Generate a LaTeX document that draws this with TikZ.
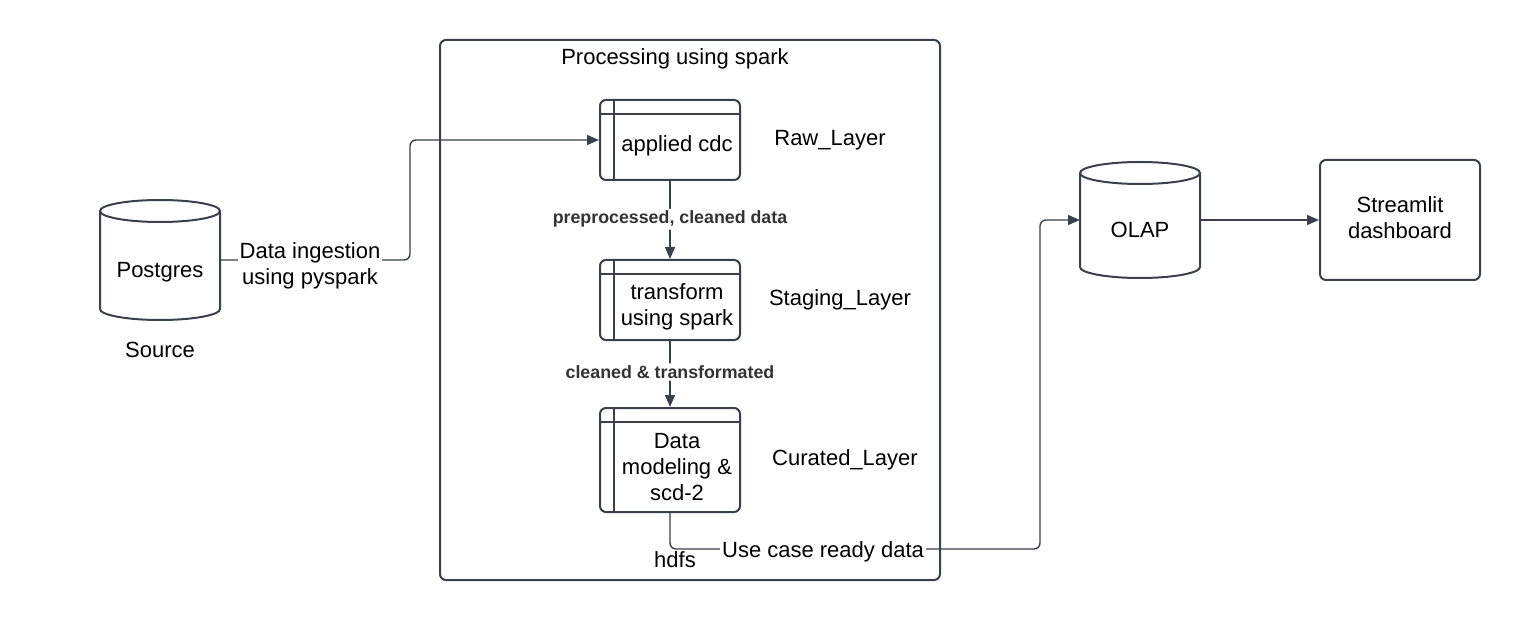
\documentclass[tikz,border=0pt]{standalone}
\usepackage{fontspec}
\setmainfont{Liberation Sans}
\usetikzlibrary{arrows.meta}
\definecolor{linegray}{HTML}{3A414A}
\definecolor{labelgray}{HTML}{333333}
\tikzset{
  frame/.style={draw=linegray, line width=1pt, rounded corners=3pt},
  procbox/.style={frame, minimum width=70pt, minimum height=40pt, inner sep=0pt,
    path picture={\draw[linegray, line width=1pt]
      ([xshift=7pt]path picture bounding box.north west) -- ([xshift=7pt]path picture bounding box.south west)
      ([yshift=-7pt]path picture bounding box.north west) -- ([yshift=-7pt]path picture bounding box.north east);}},
  proctext/.style={align=center, inner sep=0pt},
  dbbody/.style={minimum width=60pt, inner sep=0pt, outer sep=0pt},
  dbline/.style={draw=linegray, line width=1pt},
  conn/.style={draw=linegray, line width=0.7pt, rounded corners=3pt, -{Triangle[length=6pt,width=5pt]}},
  flowlabel/.style={fill=white, inner sep=1pt, align=center},
  edgelabel/.style={fill=white, inner sep=1pt, text=labelgray, font=\fontsize{8.9}{10}\selectfont\bfseries}
}
\begin{document}
\begin{tikzpicture}[x=0.5pt, y=-0.5pt, font=\fontsize{11}{13}\selectfont]
  \useasboundingbox (0,0) rectangle (1520,620);
  % Spark Rahmen
  \node[frame, minimum width=250pt, minimum height=270pt] (spark) at (690,310) {};
  \node (title) at (675,59) {Processing using spark};
  % Layer
  \node[procbox] (raw) at (670,140) {};
  \node[proctext] (rawtxt) at ([xshift=3.5pt,yshift=-3pt]raw.center) {applied cdc};
  \node[procbox] (stage) at (670,300) {};
  \node[proctext] (stagetxt) at ([xshift=3.5pt,yshift=-3.5pt]stage.center) {transform\\using spark};
  \node[procbox, minimum height=52pt] (cur) at (670,460) {};
  \node[proctext] (curtxt) at ([xshift=3.5pt,yshift=-3.5pt]cur.center) {Data\\modeling \&\\scd-2};
  \node (rawlayer) at (830,140) {Raw\_Layer};
  \node (stagelayer) at (840,300) {Staging\_Layer};
  \node (curlayer) at (845,460) {Curated\_Layer};
  % Postgres
  \node[dbbody, minimum height=49pt] (pg) at (160,260) {};
  \draw[dbline] (pg.north west) -- (pg.south west) arc[start angle=180, end angle=0, x radius=60, y radius=11] -- (pg.north east);
  \draw[dbline] (pg.north) ellipse[x radius=60, y radius=11];
  \node (pgtxt) at ([yshift=-6pt]pg.center) {Postgres};
  \node (source) at (160,350) {Source};
  % OLAP
  \node[dbbody, minimum height=47pt] (olap) at (1140,220) {};
  \draw[dbline] (olap.north west) -- (olap.south west) arc[start angle=180, end angle=0, x radius=60, y radius=11] -- (olap.north east);
  \draw[dbline] (olap.north) ellipse[x radius=60, y radius=11];
  \node (olaptxt) at ([yshift=-5pt]olap.center) {OLAP};
  % Dashboard
  \node[frame, minimum width=80pt, minimum height=60pt] (dash) at (1400,220) {};
  \node[proctext] (dashtxt) at ([yshift=1.25pt]dash.center) {Streamlit\\dashboard};
  % Verbindungen
  \draw[conn] (pg.east) -- ++(190,0) |- (raw.west);
  \node[flowlabel] (ingest) at (310,266) {Data ingestion\\using pyspark};
  \draw[conn] (raw.south) -- (stage.north) node[edgelabel, pos=0.49] (prep) {preprocessed, cleaned data};
  \draw[conn] (stage.south) -- (cur.north) node[edgelabel, pos=0.47] (clean) {cleaned \& transformated};
  \draw[conn] (cur.south) |- (1040,549) |- (olap.west);
  \node[flowlabel] (usecase) at (823,552) {Use case ready data};
  \node[flowlabel, inner sep=0.5pt] (hdfs) at (675,560) {hdfs};
  \draw[conn] (olap.east) -- (dash.west);
\end{tikzpicture}
\end{document}
